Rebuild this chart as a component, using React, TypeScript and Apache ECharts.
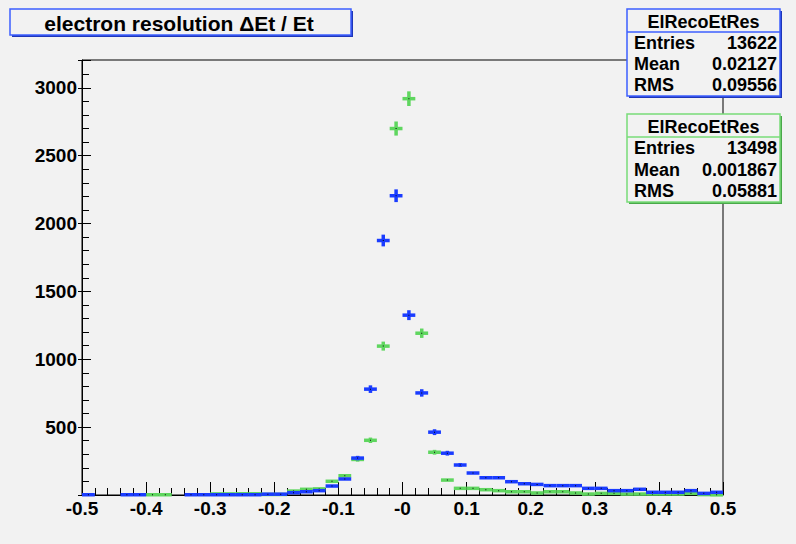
import React, { useEffect, useRef } from 'react';
import * as echarts from 'echarts';

// ---- data ----
const X_MIN = -0.5;
const X_MAX = 0.5;
const BIN_WIDTH = 0.02;
const Y_MAX = 3205;

const X_TICK_LABELS = ['-0.5', '-0.4', '-0.3', '-0.2', '-0.1', '-0', '0.1', '0.2', '0.3', '0.4', '0.5'];
const Y_TICK_LABELS = ['500', '1000', '1500', '2000', '2500', '3000'];

// blue histogram (50 bins from -0.5 to 0.5)
const blueCounts = [
  2, 0, 0, 2, 2, 0, 0, 0, 2, 2,
  2, 2, 2, 2, 6, 6, 17, 24, 32, 66,
  118, 272, 780, 1875, 2205, 1325, 752, 463, 308, 221,
  162, 127, 127, 98, 83, 78, 69, 69, 69, 49,
  49, 32, 32, 42, 20, 20, 20, 32, 12, 20,
];

// green histogram
const greenCounts = [
  0, 0, 0, 0, 0, 2, 2, 0, 0, 0,
  8, 8, 9, 9, 4, 4, 29, 42, 45, 101,
  142, 262, 403, 1097, 2700, 2920, 1192, 315, 110, 49,
  49, 39, 32, 24, 24, 15, 24, 24, 15, 7,
  12, 12, 7, 7, 7, 7, 7, 12, 3, 1,
];

const TITLE_TEXT = 'electron resolution ΔEt / Et';
const STAT_NAME = 'ElRecoEtRes';
const STAT_LABELS = ['Entries', 'Mean', 'RMS'];
const blueStats = ['13622', '0.02127', '0.09556'];
const greenStats = ['13498', '0.001867', '0.05881'];

// ---- styles ----
const FONT = '"Liberation Sans", Arial, Helvetica, sans-serif';
const BG = '#f2f2f2';
const BLUE = '#1a3cff';
const GREEN = '#5fd65f';
const BLUE_BOX = '#3d5fff';
const BLUE_SHADOW = '#1f36b8';
const GREEN_BOX = '#78dc78';
const GREEN_SHADOW = '#4aa84a';

function toBins(counts: number[]) {
  return counts.map((v, i) => [X_MIN + i * BIN_WIDTH, X_MIN + (i + 1) * BIN_WIDTH, v, Math.sqrt(v)]);
}

function makeRender(color: string) {
  return (params: any, api: any) => {
    const lo = api.value(0);
    const hi = api.value(1);
    const v = api.value(2);
    const err = api.value(3);
    if (!(v > 0)) return null;
    const c = (lo + hi) / 2;
    const pL = api.coord([lo, v]);
    const pR = api.coord([hi, v]);
    const pT = api.coord([c, v + err]);
    const pB = api.coord([c, v - err]);
    const children: any[] = [
      {
        type: 'line',
        shape: { x1: pL[0], y1: pL[1], x2: pR[0], y2: pR[1] },
        style: { stroke: color, lineWidth: 3.5 },
      },
    ];
    if (pB[1] - pT[1] > 3.5) {
      children.push({
        type: 'line',
        shape: { x1: pT[0], y1: pT[1], x2: pB[0], y2: pB[1] },
        style: { stroke: color, lineWidth: 3.5 },
      });
    }
    children.push({
      type: 'rect',
      shape: { x: pT[0] - 0.5, y: pL[1] - 0.5, width: 1, height: 1 },
      style: { fill: '#000' },
    });
    return { type: 'group', children };
  };
}

function statBox(x: number, y: number, w: number, h: number, titleH: number, color: string, shadow: string, values: string[]) {
  const rowH = (h - titleH) / 3;
  const els: any[] = [
    { type: 'rect', z: 100, shape: { x: x + 2, y: y + 2, width: w, height: h }, style: { fill: shadow } },
    { type: 'rect', z: 101, shape: { x, y, width: w, height: h }, style: { fill: BG, stroke: color, lineWidth: 1.5 } },
    { type: 'line', z: 102, shape: { x1: x, y1: y + titleH, x2: x + w, y2: y + titleH }, style: { stroke: color, lineWidth: 1.5 } },
    {
      type: 'text', z: 103, x: x + w / 2, y: y + titleH / 2 + 1,
      style: { text: STAT_NAME, font: `bold 18px ${FONT}`, fill: '#000', align: 'center', verticalAlign: 'middle' },
    },
  ];
  STAT_LABELS.forEach((lab, i) => {
    const cy = y + titleH + rowH * (i + 0.5);
    els.push({
      type: 'text', z: 103, x: x + 7, y: cy,
      style: { text: lab, font: `bold 18px ${FONT}`, fill: '#000', align: 'left', verticalAlign: 'middle' },
    });
    els.push({
      type: 'text', z: 103, x: x + w - 3, y: cy,
      style: { text: values[i], font: `bold 18px ${FONT}`, fill: '#000', align: 'right', verticalAlign: 'middle' },
    });
  });
  return els;
}

export default function App() {
  const ref = useRef<HTMLDivElement>(null);
  useEffect(() => {
    if (!ref.current) return;
    const chart = echarts.init(ref.current, null, { renderer: 'svg' });
    const labelStyle = { fontSize: 19, fontWeight: 'bold' as const, color: '#000', fontFamily: FONT };
    const option: any = {
      animation: false,
      backgroundColor: BG,
      grid: { left: 82, right: 73, top: 60, bottom: 49, show: true, borderColor: '#000', borderWidth: 1, backgroundColor: 'transparent', containLabel: false },
      xAxis: [
        {
          type: 'value', min: X_MIN, max: X_MAX, interval: 0.1, position: 'bottom',
          axisLine: { show: true, onZero: false, lineStyle: { color: '#000', width: 1 } },
          axisTick: { show: true, inside: true, length: 13, lineStyle: { color: '#000', width: 1 } },
          minorTick: { show: true, splitNumber: 5, length: 7, lineStyle: { color: '#000', width: 1 } },
          axisLabel: {
            ...labelStyle, margin: 4,
            formatter: (v: number) => {
              const idx = Math.round((v - X_MIN) / 0.1);
              return X_TICK_LABELS[idx] ?? '';
            },
          },
          splitLine: { show: false },
        },
      ],
      yAxis: [
        {
          type: 'value', min: 0, max: Y_MAX, interval: 500, position: 'left',
          axisLine: { show: true, onZero: false, lineStyle: { color: '#000', width: 1 } },
          axisTick: { show: true, inside: true, length: 9, lineStyle: { color: '#000', width: 1 } },
          axisLabel: {
            ...labelStyle, margin: 5,
            formatter: (v: number) => (Y_TICK_LABELS.includes(String(v)) ? String(v) : ''),
          },
          splitLine: { show: false },
        },
        {
          type: 'value', min: 0, max: Y_MAX, interval: 100, position: 'left',
          axisLine: { show: false, onZero: false },
          axisTick: { show: true, inside: true, length: 7, lineStyle: { color: '#000', width: 1 } },
          axisLabel: { show: false },
          splitLine: { show: false },
        },
        {
          type: 'value', min: 0, max: Y_MAX, interval: 500, position: 'left',
          axisLine: { show: false, onZero: false },
          axisTick: { show: true, inside: false, length: 4, lineStyle: { color: '#000', width: 1 } },
          axisLabel: { show: false },
          splitLine: { show: false },
        },
      ],
      series: [
        {
          type: 'custom', name: 'green', xAxisIndex: 0, yAxisIndex: 0, clip: false,
          data: toBins(greenCounts), encode: { x: [0, 1], y: 2 },
          renderItem: makeRender(GREEN), z: 3,
        },
        {
          type: 'custom', name: 'blue', xAxisIndex: 0, yAxisIndex: 0, clip: false,
          data: toBins(blueCounts), encode: { x: [0, 1], y: 2 },
          renderItem: makeRender(BLUE), z: 4,
        },
      ],
      graphic: [
        { type: 'rect', z: 100, shape: { x: 12, y: 11, width: 341, height: 26 }, style: { fill: BLUE_SHADOW } },
        { type: 'rect', z: 101, shape: { x: 10, y: 9, width: 341, height: 26 }, style: { fill: BG, stroke: BLUE_BOX, lineWidth: 1.5 } },
        {
          type: 'text', z: 103, x: 179, y: 23,
          style: { text: TITLE_TEXT, font: `bold 21px ${FONT}`, fill: '#000', align: 'center', verticalAlign: 'middle' },
        },
        ...statBox(627, 9, 153, 87, 23, BLUE_BOX, BLUE_SHADOW, blueStats),
        ...statBox(627, 114, 153, 88, 23, GREEN_BOX, GREEN_SHADOW, greenStats),
      ],
    };
    chart.setOption(option);
    return () => chart.dispose();
  }, []);
  return (
    <div
      ref={ref}
      style={{ position: 'fixed', left: 0, top: 0, width: 796, height: 544, background: BG }}
    />
  );
}
